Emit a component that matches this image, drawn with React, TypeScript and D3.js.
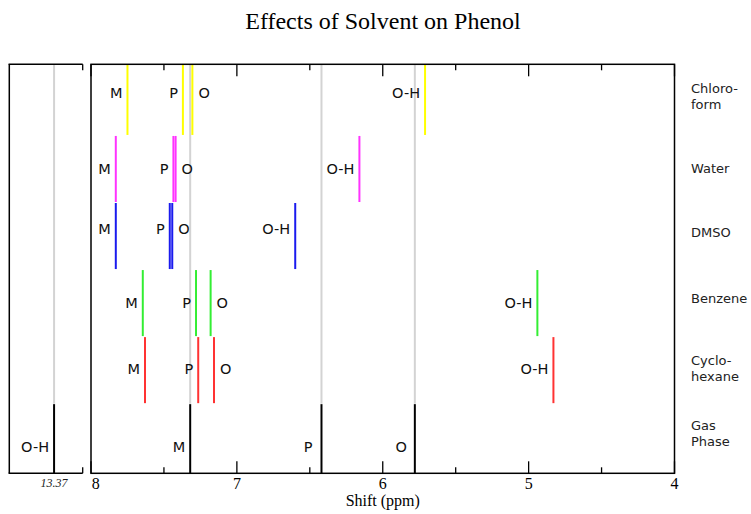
import React from "react";
import * as d3 from "d3";

// ---- data ----
const solvents = ["Chloroform", "Water", "DMSO", "Benzene", "Cyclohexane", "Gas Phase"];
const solventLabelLines = [["Chloro-", "form"], ["Water"], ["DMSO"], ["Benzene"], ["Cyclo-", "hexane"], ["Gas", "Phase"]];
const metaShift = [7.75, 7.83, 7.83, 7.645, 7.63, 7.32];
const paraShift = [7.37, 7.435, 7.46, 7.28, 7.265, 6.42];
const orthoShift = [7.305, 7.42, 7.443, 7.18, 7.157, 5.78];
const ohShift = [5.71, 6.16, 6.6, 4.94, 4.83, 13.37];
const solventColors = ["#ffff00", "#ff33ff", "#1a1aee", "#33ee33", "#ff3333", "#000000"];
const orthoLabelSide = ["right", "right", "right", "right", "right", "left"];
const xTickValues = [8, 7.5, 7, 6.5, 6, 5.5, 5, 4.5, 4];
const xTickLabels = ["8", "7", "6", "5", "4"];
const brokenTickLabel = "13.37";

// ---- layout ----
const W = 751, H = 514;
const panelTop = 64.3, panelBottom = 473.3;
const mainLeft = 91, mainRight = 674.5;
const leftPanelLeft = 9.3, leftPanelRight = 82.7;
const peakLabelFrac = [0.557, 0.431, 0.533, 0.428, 0.444, 0.285];
const rowLabelFrac = [0.63, 0.44, 0.485, 0.5, 0.576, 0.613];
const gasLabelGap: Record<string, number> = { M: 5, P: 9, O: 8, "O-H": 5 };

const x = d3.scaleLinear().domain([8, 4]).range([mainLeft, mainRight]);
const xLeft = d3.scaleLinear().domain([13.675, 13.175]).range([leftPanelLeft, leftPanelRight]);
const yUnit = d3.scaleLinear().domain([0, 6]).range([470.7, 68.4]);

const sans = "'DejaVu Sans', sans-serif";
const serif = "'Liberation Serif', 'Times New Roman', serif";

function px(v: number) {
  return v > 8 ? xLeft(v) : x(v);
}

export default function App() {
  const n = solvents.length;
  const gasIdx = n - 1;
  const rowTop = (r: number) => (r === 0 ? panelTop : yUnit(n - r) + 0.5);
  const rowBottom = (r: number) => (r === n - 1 ? panelBottom : yUnit(n - 1 - r) - 0.5);

  const peaks: { v: number; label: string; side: string; r: number }[] = [];
  solvents.forEach((_, r) => {
    peaks.push({ v: metaShift[r], label: "M", side: "left", r });
    peaks.push({ v: paraShift[r], label: "P", side: "left", r });
    peaks.push({ v: orthoShift[r], label: "O", side: orthoLabelSide[r], r });
    peaks.push({ v: ohShift[r], label: "O-H", side: "left", r });
  });

  const gasRefs = [metaShift[gasIdx], paraShift[gasIdx], orthoShift[gasIdx], ohShift[gasIdx]];

  return (
    <svg width={W} height={H} style={{ position: "absolute", left: 0, top: 0, background: "#fff" }}>
      <text x={383} y={29.3} textAnchor="middle" fontFamily={serif} fontSize={24} fill="#000">
        Effects of Solvent on Phenol
      </text>

      {/* grey reference lines from gas phase */}
      {gasRefs.map((v, i) => (
        <line key={"g" + i} x1={px(v)} x2={px(v)} y1={panelTop} y2={yUnit(1)} stroke="#d3d3d3" strokeWidth={2} />
      ))}

      {/* peaks */}
      {peaks.map((p, i) => {
        const xx = px(p.v);
        const ly = yUnit(n - 1 - p.r + peakLabelFrac[p.r]);
        const gap = p.r === gasIdx ? gasLabelGap[p.label] : 5;
        return (
          <g key={"p" + i}>
            <line x1={xx} x2={xx} y1={rowTop(p.r)} y2={rowBottom(p.r)} stroke={solventColors[p.r]} strokeWidth={2} />
            <text
              x={p.side === "left" ? xx - gap : xx + 6}
              y={ly}
              textAnchor={p.side === "left" ? "end" : "start"}
              fontFamily={sans}
              fontSize={14.5}
              fill="#111"
            >
              {p.label}
            </text>
          </g>
        );
      })}

      {/* main panel frame */}
      <rect x={mainLeft} y={panelTop} width={mainRight - mainLeft} height={panelBottom - panelTop} fill="none" stroke="#000" strokeWidth={1.5} />
      {xTickValues.map((t, i) => {
        const major = Number.isInteger(t);
        const len = major ? 12 : 6;
        return (
          <g key={"t" + i}>
            <line x1={x(t)} x2={x(t)} y1={panelBottom} y2={panelBottom - len} stroke="#000" strokeWidth={1.3} />
            <line x1={x(t)} x2={x(t)} y1={panelTop} y2={panelTop + len} stroke="#000" strokeWidth={1.3} />
          </g>
        );
      })}
      {xTickLabels.map((l, i) => {
        const v = +l;
        return (
          <text key={"tl" + i} x={i === 0 ? x(v) + 0.7 : x(v)} y={489} textAnchor={i === 0 ? "start" : "middle"} fontFamily={serif} fontSize={16} fill="#000">
            {l}
          </text>
        );
      })}
      <text x={(mainLeft + mainRight) / 2} y={506} textAnchor="middle" fontFamily={serif} fontSize={16} fill="#000">
        Shift (ppm)
      </text>

      {/* left broken panel */}
      <line x1={leftPanelLeft} x2={leftPanelLeft} y1={panelTop} y2={panelBottom} stroke="#000" strokeWidth={1.5} />
      <line x1={leftPanelLeft - 0.75} x2={leftPanelRight} y1={panelTop} y2={panelTop} stroke="#000" strokeWidth={1.5} />
      <line x1={leftPanelLeft - 0.75} x2={leftPanelRight} y1={panelBottom} y2={panelBottom} stroke="#000" strokeWidth={1.5} />
      <line x1={leftPanelRight} x2={leftPanelRight} y1={panelTop} y2={panelTop + 6} stroke="#000" strokeWidth={1.3} />
      <line x1={leftPanelRight} x2={leftPanelRight} y1={panelBottom} y2={panelBottom - 6} stroke="#000" strokeWidth={1.3} />
      <text x={xLeft(13.37)} y={487} textAnchor="middle" fontFamily={serif} fontStyle="italic" fontSize={12} fill="#222">
        {brokenTickLabel}
      </text>

      {/* row labels */}
      {solventLabelLines.map((lines, r) => (
        <text key={"rl" + r} x={691} y={yUnit(n - 1 - r + rowLabelFrac[r])} fontFamily={sans} fontSize={13} fill="#222">
          {lines.map((ln, j) => (
            <tspan key={j} x={691} dy={j === 0 ? 0 : 16}>
              {ln}
            </tspan>
          ))}
        </text>
      ))}
    </svg>
  );
}
